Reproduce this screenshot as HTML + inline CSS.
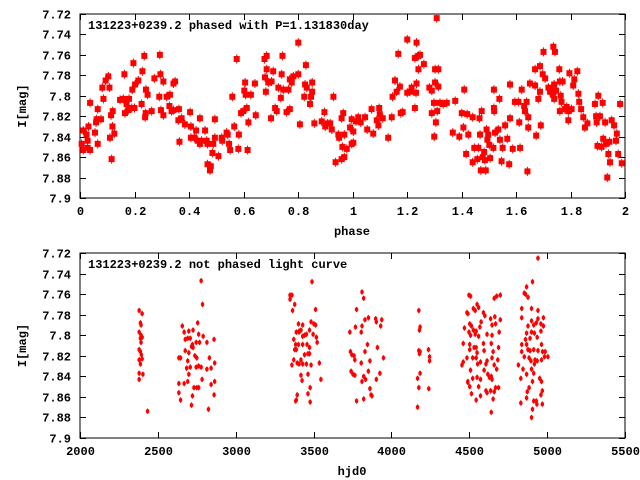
<!DOCTYPE html>
<html><head><meta charset="utf-8"><style>
body{margin:0;background:#fff;}
svg{display:block;font-family:"Liberation Mono","DejaVu Sans Mono",monospace;font-weight:bold;font-size:12px;}
</style></head><body>
<svg id="chart" width="640" height="480" viewBox="0 0 640 480" xmlns="http://www.w3.org/2000/svg"></svg>
<script>
const phaseVals=[0.006,0.012,0.012,0.024,0.028,0.028,0.037,0.031,0.037,0.055,0.059,0.061,0.065,0.065,0.077,0.082,0.086,0.094,0.104,0.108,0.110,0.114,0.116,0.119,0.12,0.126,0.147,0.159,0.163,0.165,0.171,0.177,0.180,0.19,0.192,0.196,0.2,0.202,0.214,0.226,0.229,0.236,0.239,0.241,0.242,0.248,0.263,0.273,0.291,0.293,0.295,0.297,0.306,0.306,0.318,0.33,0.328,0.336,0.343,0.349,0.343,0.363,0.361,0.365,0.373,0.385,0.404,0.407,0.407,0.42,0.426,0.432,0.44,0.44,0.446,0.459,0.465,0.468,0.468,0.477,0.48,0.486,0.489,0.495,0.495,0.508,0.52,0.522,0.538,0.542,0.547,0.551,0.559,0.566,0.575,0.581,0.583,0.591,0.599,0.603,0.606,0.608,0.612,0.615,0.618,0.627,0.642,0.645,0.677,0.679,0.682,0.685,0.685,0.691,0.701,0.703,0.709,0.716,0.722,0.728,0.737,0.74,0.743,0.746,0.758,0.765,0.77,0.77,0.777,0.783,0.801,0.801,0.807,0.823,0.826,0.829,0.832,0.844,0.848,0.852,0.852,0.86,0.887,0.897,0.9,0.909,0.918,0.924,0.93,0.938,0.948,0.951,0.96,0.963,0.96,0.966,0.97,0.97,0.979,0.991,0.997,0.997,
1.003,1.003,1.013,1.021,1.03,1.046,1.054,1.07,1.076,1.089,1.095,1.098,1.1,1.111,1.131,1.144,1.147,1.156,1.162,1.168,1.174,1.177,1.184,1.201,1.201,1.211,1.217,1.229,1.229,1.233,1.235,1.235,1.242,1.242,1.248,1.262,1.282,1.291,1.291,1.299,1.3,1.303,1.303,1.306,1.309,1.311,1.315,1.315,1.321,1.333,1.346,1.368,1.377,1.392,1.401,1.407,1.41,1.417,1.421,1.425,1.441,1.441,1.447,1.458,1.462,1.466,1.468,1.471,1.474,1.478,1.483,1.486,1.489,1.492,1.495,1.498,1.502,1.505,1.517,1.519,1.519,1.52,1.523,1.535,1.539,1.541,1.547,1.551,1.56,1.568,1.575,1.578,1.578,1.588,1.596,1.609,1.612,1.615,1.621,1.63,1.633,1.639,1.642,1.645,1.645,1.651,1.67,1.67,1.674,1.682,1.688,1.688,1.691,1.698,1.701,1.707,1.719,1.725,1.731,1.735,1.737,1.74,1.74,1.743,1.747,1.759,1.761,1.761,1.764,1.767,1.771,1.779,1.786,1.792,1.792,1.796,1.804,1.81,1.814,1.825,1.829,1.832,1.839,1.847,1.853,1.862,1.89,1.894,1.896,1.899,1.902,1.908,1.914,1.918,1.92,1.927,1.93,1.935,1.939,1.943,1.945,1.951,1.96,1.967,1.97,1.975,1.982,1.988];
const phaseMags=[7.847,7.834,7.853,7.838,7.851,7.844,7.853,7.830,7.807,7.836,7.826,7.823,7.847,7.813,7.823,7.792,7.803,7.785,7.781,7.792,7.841,7.819,7.862,7.830,7.815,7.837,7.804,7.803,7.779,7.817,7.808,7.814,7.803,7.812,7.794,7.768,7.812,7.789,7.785,7.808,7.776,7.761,7.821,7.817,7.794,7.799,7.815,7.783,7.801,7.760,7.779,7.814,7.786,7.819,7.801,7.799,7.810,7.815,7.788,7.786,7.814,7.813,7.824,7.845,7.822,7.828,7.816,7.830,7.841,7.841,7.834,7.844,7.847,7.822,7.844,7.834,7.844,7.847,7.867,7.873,7.869,7.856,7.847,7.823,7.841,7.859,7.841,7.844,7.836,7.838,7.847,7.853,7.801,7.830,7.764,7.852,7.838,7.817,7.815,7.795,7.787,7.799,7.812,7.853,7.826,7.799,7.788,7.819,7.764,7.782,7.796,7.761,7.774,7.787,7.822,7.786,7.776,7.812,7.815,7.792,7.802,7.779,7.761,7.794,7.816,7.794,7.813,7.784,7.787,7.781,7.748,7.779,7.828,7.801,7.789,7.770,7.792,7.808,7.801,7.787,7.796,7.827,7.825,7.816,7.830,7.827,7.827,7.833,7.801,7.865,7.838,7.841,7.822,7.850,7.862,7.817,7.838,7.860,7.852,7.831,7.823,7.847,
7.846,7.835,7.825,7.821,7.826,7.821,7.833,7.813,7.837,7.824,7.829,7.812,7.818,7.822,7.841,7.821,7.801,7.785,7.796,7.759,7.791,7.817,7.816,7.745,7.797,7.796,7.792,7.812,7.763,7.797,7.788,7.748,7.774,7.761,7.760,7.769,7.792,7.795,7.817,7.807,7.840,7.787,7.774,7.826,7.724,7.815,7.774,7.791,7.807,7.808,7.807,7.836,7.805,7.840,7.817,7.831,7.794,7.857,7.818,7.838,7.865,7.821,7.851,7.862,7.851,7.822,7.838,7.873,7.815,7.860,7.855,7.863,7.873,7.833,7.843,7.838,7.848,7.861,7.851,7.794,7.812,7.815,7.836,7.833,7.803,7.843,7.864,7.851,7.829,7.842,7.867,7.822,7.789,7.852,7.806,7.806,7.826,7.851,7.794,7.810,7.815,7.806,7.874,7.821,7.831,7.788,7.790,7.774,7.839,7.803,7.771,7.796,7.829,7.779,7.757,7.783,7.792,7.796,7.794,7.799,7.752,7.789,7.803,7.757,7.795,7.774,7.786,7.815,7.800,7.806,7.786,7.813,7.811,7.824,7.815,7.778,7.813,7.790,7.784,7.776,7.798,7.806,7.813,7.821,7.831,7.827,7.808,7.820,7.826,7.849,7.800,7.820,7.850,7.807,7.842,7.826,7.847,7.880,7.857,7.845,7.865,7.824,7.829,7.844,7.837,7.857,7.808,7.866];
const hjdVals=[2380,2399,2388,2392,2380,2392,2399,2388,2392,2380,2388,2394,2380,2399,2388,2380,2404,2380,2434,
2657,2669,2699,2726,2756,2676,2692,2708,2722,2746,2768,2762,2791,2815,2861,2646,2635,2676,2699,2716,2726,2738,2750,2692,2708,2699,2685,2746,2762,2778,2784,2831,2865,2815,2842,2635,2669,2692,2732,2750,2762,2842,2865,2635,2646,2722,2716,2861,2825,2778,2787,
3349,3361,3349,3379,3365,3513,3403,3430,3407,3389,3419,3484,3502,3513,3518,3497,3474,3454,3442,3430,3407,3373,3385,3403,3430,3458,3474,3523,3379,3389,3442,3464,3474,3419,3407,3373,3361,3395,3430,3454,3484,3537,3419,3426,3464,3547,3395,3389,3385,3478,3464,3478,3490,
3811,3822,3776,3830,3852,3899,3903,3938,3931,3811,3806,3769,3733,3737,3746,3760,3765,3806,3830,3846,3862,3910,3949,3741,3753,3765,3822,3811,3834,3852,3903,3926,3862,3869,3875,3776,3822,
4176,4180,4184,4176,4184,4180,4238,4245,4245,4184,4168,4176,4240,4168,
4498,4508,4550,4560,4526,4538,4485,4491,4591,4600,4664,4637,4699,4660,4676,4699,4576,4503,4514,4469,4526,4498,4544,4568,4646,4669,4508,4538,4560,4614,4646,4692,4461,4503,4531,4544,4591,4641,4503,4550,4595,4653,4688,4485,4522,4544,4572,4614,4461,4554,4607,4646,4683,4660,4453,4508,4595,4676,4491,4522,4550,4572,4619,4630,4641,4646,4491,4503,4560,4607,4637,4660,4669,4688,4514,4572,4544,4653,4614,4641,
4941,4906,4868,4861,4877,4853,4837,4900,4941,4837,4976,4900,4941,4914,4960,4930,4976,4877,4900,4918,4868,4960,4890,4936,4861,4964,4837,4868,4877,4914,4941,4971,4987,5005,4837,4890,4853,4884,4922,4936,4964,4983,4896,4918,4815,4845,4900,4868,4831,4914,4952,4964,4906,4884,4872,4969,4960,4868,4914,4930,4831,4969,4906,4900,4934];
const hjdMags=[7.776,7.779,7.788,7.790,7.797,7.800,7.802,7.803,7.807,7.814,7.816,7.819,7.824,7.823,7.828,7.837,7.838,7.843,7.874,
7.791,7.797,7.796,7.795,7.788,7.804,7.803,7.803,7.809,7.807,7.807,7.799,7.801,7.807,7.804,7.822,7.822,7.815,7.817,7.811,7.812,7.820,7.822,7.825,7.831,7.838,7.832,7.831,7.830,7.831,7.843,7.822,7.827,7.833,7.832,7.847,7.847,7.845,7.851,7.851,7.851,7.848,7.845,7.856,7.863,7.859,7.868,7.858,7.872,7.747,7.770,
7.761,7.761,7.765,7.770,7.776,7.775,7.789,7.790,7.796,7.797,7.795,7.787,7.789,7.790,7.802,7.799,7.795,7.799,7.800,7.801,7.797,7.804,7.809,7.809,7.809,7.809,7.812,7.807,7.814,7.814,7.819,7.818,7.818,7.824,7.828,7.824,7.829,7.827,7.828,7.828,7.829,7.827,7.839,7.844,7.838,7.843,7.858,7.863,7.864,7.851,7.857,7.865,7.748,
7.758,7.764,7.775,7.785,7.783,7.784,7.787,7.785,7.791,7.791,7.797,7.792,7.797,7.816,7.819,7.820,7.824,7.827,7.816,7.809,7.825,7.812,7.822,7.835,7.838,7.839,7.840,7.845,7.843,7.835,7.843,7.837,7.852,7.858,7.859,7.864,7.862,
7.776,7.795,7.792,7.815,7.816,7.818,7.814,7.821,7.825,7.837,7.842,7.851,7.852,7.870,
7.761,7.762,7.770,7.773,7.774,7.776,7.778,7.779,7.778,7.781,7.782,7.784,7.785,7.764,7.762,7.761,7.787,7.789,7.791,7.793,7.795,7.797,7.796,7.792,7.790,7.789,7.800,7.799,7.801,7.799,7.800,7.797,7.808,7.809,7.812,7.812,7.808,7.808,7.814,7.817,7.815,7.816,7.812,7.822,7.822,7.822,7.826,7.825,7.826,7.828,7.828,7.822,7.824,7.829,7.829,7.834,7.834,7.833,7.845,7.842,7.841,7.843,7.838,7.841,7.840,7.843,7.846,7.850,7.850,7.854,7.854,7.855,7.851,7.851,7.857,7.859,7.863,7.862,7.856,7.875,
7.725,7.748,7.753,7.760,7.763,7.759,7.774,7.774,7.776,7.783,7.783,7.786,7.784,7.790,7.789,7.788,7.791,7.791,7.797,7.798,7.798,7.796,7.803,7.802,7.804,7.809,7.809,7.809,7.814,7.814,7.815,7.816,7.816,7.821,7.816,7.815,7.821,7.822,7.824,7.825,7.824,7.821,7.825,7.828,7.829,7.833,7.833,7.838,7.842,7.837,7.842,7.845,7.845,7.851,7.855,7.854,7.858,7.861,7.864,7.864,7.866,7.867,7.872,7.880,7.867];
const magTicks=["7.72","7.74","7.76","7.78","7.8","7.82","7.84","7.86","7.88","7.9"];
const phaseTicks=["0","0.2","0.4","0.6","0.8","1","1.2","1.4","1.6","1.8","2"];
const hjdTicks=["2000","2500","3000","3500","4000","4500","5000","5500"];

const NS="http://www.w3.org/2000/svg";
const svg=document.getElementById('chart');
function mk(tag,attrs,parent){const e=document.createElementNS(NS,tag);for(const k in attrs)e.setAttribute(k,attrs[k]);(parent||svg).appendChild(e);return e;}
const L=80,R=625;
function panel(top,bot,xmin,xmax,xticks,xlabel,title,xs,ys,big,pname){
  const g=mk('g',{});
  
  
  const sx=v=>L+(v-xmin)/(xmax-xmin)*(R-L);
  const sy=v=>top+(v-7.72)/(7.9-7.72)*(bot-top);
  const frame=mk('rect',{x:L,y:top,width:R-L,height:bot-top,fill:'none',stroke:'#000','stroke-width':1},g);
  
  
  magTicks.forEach(t=>{const y=Math.round(sy(parseFloat(t)))+0.5;
    mk('line',{x1:L,y1:y,x2:L+6,y2:y,stroke:'#000'},g);mk('line',{x1:R,y1:y,x2:R-6,y2:y,stroke:'#000'},g);
    const tx=mk('text',{x:71,y:y+4,'text-anchor':'end'},g);tx.textContent=t;
    
    });
  xticks.forEach(t=>{const x=Math.round(sx(parseFloat(t)))+0.5;
    mk('line',{x1:x,y1:bot,x2:x,y2:bot-6,stroke:'#000'},g);mk('line',{x1:x,y1:top,x2:x,y2:top+6,stroke:'#000'},g);
    const tx=mk('text',{x:x,y:bot+17,'text-anchor':'middle'},g);tx.textContent=t;
    
    });
  const xl=mk('text',{x:352,y:bot+37,'text-anchor':'middle'},g);xl.textContent=xlabel;
  
  
  const cy=(top+bot)/2;
  const yl=mk('text',{x:26,y:cy,'text-anchor':'middle',transform:'rotate(-90 26 '+cy+')'},g);yl.textContent='I[mag]';
  
  
  const tt=mk('text',{x:88,y:top+15},g);tt.textContent=title;
  
  
  xs.forEach((v,i)=>{const x=sx(v),y=sy(ys[i]);let p;
    if(big){p=mk('path',{d:`M${x-3} ${y-3}h6v6h-6z M${x-0.5} ${y-4.5}h1v9h-1z`,fill:'#f00'},g);}
    else{p=mk('path',{d:`M${x} ${y-3}L${x+1.7} ${y-1}L${x+1.7} ${y+1}L${x} ${y+3}L${x-1.7} ${y+1}L${x-1.7} ${y-1}Z`,fill:'#f00'},g);}
    
    });
}
panel(14,198,0,2,phaseTicks,'phase','131223+0239.2 phased with P=1.131830day',phaseVals,phaseMags,true,'phased-plot');
panel(253,438,2000,5500,hjdTicks,'hjd0','131223+0239.2 not phased light curve',hjdVals,hjdMags,false,'lightcurve-plot');
</script>
</body></html>
